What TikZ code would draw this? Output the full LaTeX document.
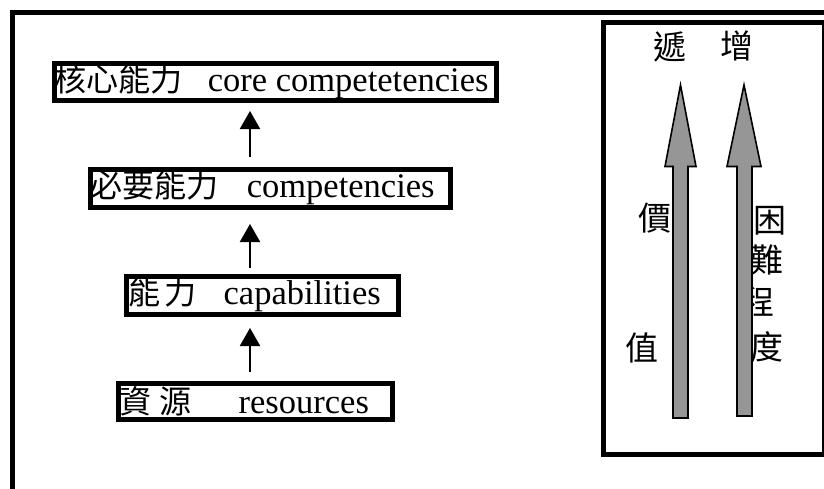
\documentclass[tikz,border=0pt]{standalone}
\usepackage{fontspec}
\setmainfont{Liberation Serif}
\newfontfamily\cjk{Noto Sans CJK TC}[Scale=0.93]
\newfontfamily\cjkr{Noto Sans CJK TC}
\usetikzlibrary{arrows.meta}
\definecolor{arrowgray}{HTML}{969696}
\tikzset{
  box/.style={draw, line width=5pt, inner sep=0pt, anchor=north west,
    font=\fontsize{34.5}{40}\selectfont},
  conn/.style={line width=2pt, -{Triangle[width=20pt,length=18pt]}},
  sidetext/.style={inner sep=0pt, font=\cjkr\fontsize{33}{36}\selectfont},
  bigarrow/.style={draw, line width=1.6pt, fill=arrowgray, line join=miter},
}
\begin{document}
\begin{tikzpicture}[x=1pt,y=-1pt]
\useasboundingbox (0,0) rectangle (824,488);
\clip (0,0) rectangle (824,488);
\fill[white] (0,0) rectangle (824,488);
% outer frame
\draw[line width=5pt] (12.5,12.5) rectangle (900,600);
% left boxes
\node[box, minimum height=37pt] (b1) at (51.5,60.5)
  {\makebox[442pt][l]{\hspace{0.5pt}{\cjk 核心能力}\hspace{25pt}core competetencies}};
\node[box, minimum height=38pt] (b2) at (87.5,166.5)
  {\makebox[360pt][l]{\hspace{0.5pt}{\cjk 必要能力}\hspace{28pt}competencies}};
\node[box, minimum height=38pt] (b3) at (123.5,273.5)
  {\makebox[272pt][l]{\hspace{2.5pt}{\cjk 能}\hspace{4pt}{\cjk 力}\hspace{27pt}capabilities}};
\node[box, minimum height=36pt] (b4) at (115.5,380.5)
  {\makebox[274pt][l]{\hspace{1.5pt}{\cjk 資}\hspace{8pt}{\cjk 源}\hspace{47pt}resources}};
\coordinate (ax) at (250,0);
\draw[conn, shorten <=9.5pt, shorten >=8.5pt] (ax |- b2.north) -- (ax |- b1.south);
\draw[conn, shorten <=5.5pt, shorten >=14.5pt] (ax |- b3.north) -- (ax |- b2.south);
\draw[conn, shorten <=8.5pt, shorten >=11.5pt] (ax |- b4.north) -- (ax |- b3.south);
% right panel
\draw[line width=5pt] (603,22.5) rectangle (824,454.5);
\node[sidetext] (s1) at (670,47) {遞};
\node[sidetext] (s2) at (737,46) {增};
\node[sidetext] (v1) at (655,218) {價};
\node[sidetext] (v2) at (642,348) {值};
\node[sidetext] (d1) at (770,221) {困};
\node[sidetext] (d2) at (767,260) {難};
\node[sidetext] (d3) at (758,302) {程};
\node[sidetext] (d4) at (767,347) {度};
\draw[bigarrow] (673,418) -- (673,166.5) -- (665,166.5) -- (680.5,85)
  -- (696,166.5) -- (688,166.5) -- (688,418) -- cycle;
\draw[bigarrow] (737,416) -- (737,166.5) -- (727,166.5) -- (744,85)
  -- (761,166.5) -- (752,166.5) -- (752,416) -- cycle;
\end{tikzpicture}
\end{document}
